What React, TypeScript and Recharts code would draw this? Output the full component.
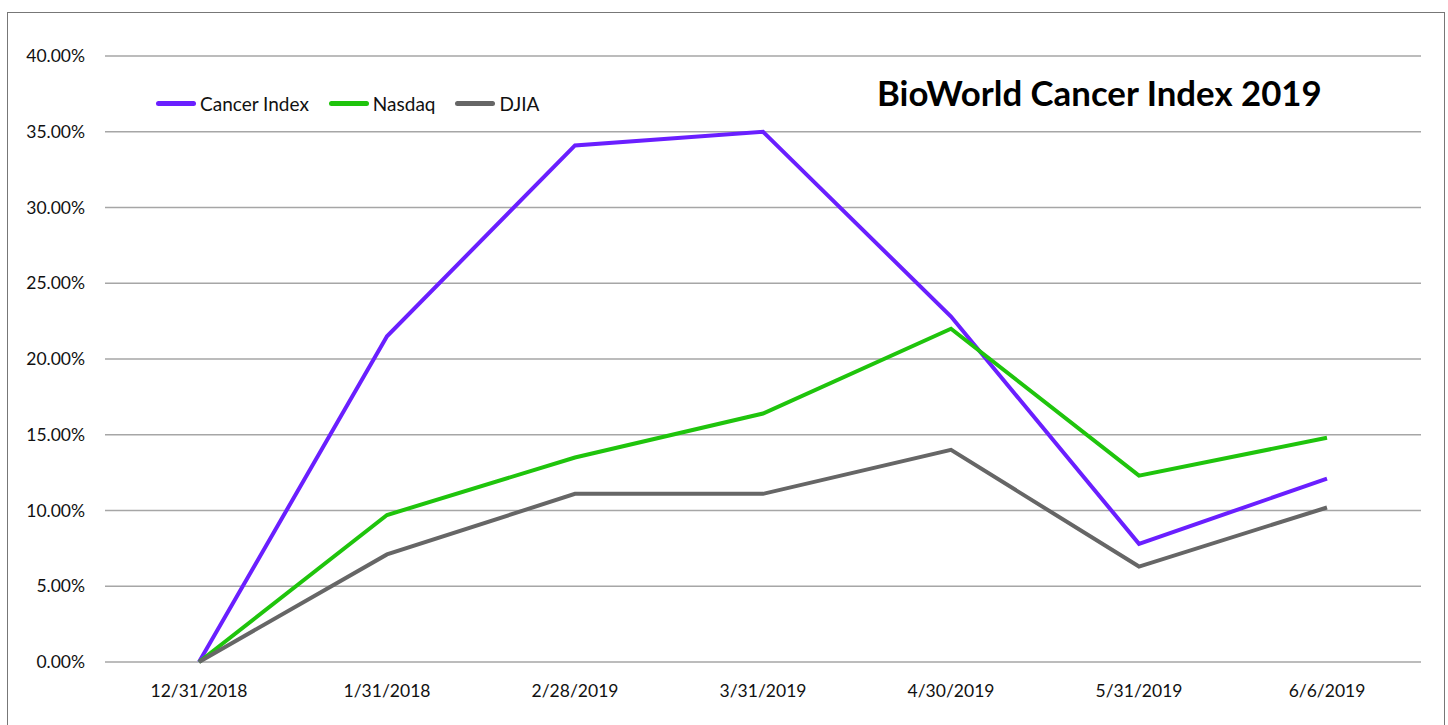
import { LineChart, Line, XAxis, YAxis, CartesianGrid } from 'recharts'

const dates = ['12/31/2018', '1/31/2018', '2/28/2019', '3/31/2019', '4/30/2019', '5/31/2019', '6/6/2019']
const cancerIndex = [0, 21.5, 34.1, 35.0, 22.8, 7.8, 12.1]
const nasdaq = [0, 9.7, 13.5, 16.4, 22.0, 12.3, 14.8]
const djia = [0, 7.1, 11.1, 11.1, 14.0, 6.3, 10.2]
const yTicks = [0, 5, 10, 15, 20, 25, 30, 35, 40]

const series = [
  { key: 'cancer', name: 'Cancer Index', color: '#6a1fff' },
  { key: 'nasdaq', name: 'Nasdaq', color: '#1fc40c' },
  { key: 'djia', name: 'DJIA', color: '#666666' },
]

const data = dates.map((date, i) => ({
  date,
  cancer: cancerIndex[i],
  nasdaq: nasdaq[i],
  djia: djia[i],
}))

const FONT = 'Lato, "Open Sans", sans-serif'

export default function App() {
  return (
    <div style={{ position: 'absolute', left: 0, top: 0, width: 1448, height: 725, overflow: 'hidden', background: '#fff' }}>
      <div
        style={{
          position: 'absolute',
          left: 7,
          top: 12,
          width: 1436,
          height: 730,
          border: '1.5px solid #777',
        }}
      />
      <div style={{ position: 'absolute', left: 0, top: 0 }}>
        <LineChart width={1448} height={725} data={data} margin={{ top: 56, right: 27, bottom: 0, left: 0 }}>
          <CartesianGrid vertical={false} stroke="#a6a6a6" strokeWidth={1.5} />
          <XAxis
            dataKey="date"
            padding={{ left: 94, right: 94 }}
            height={63}
            tickLine={false}
            axisLine={false}
            tickMargin={17}
            tick={{ fill: '#111', fontSize: 17.5, fontFamily: FONT }}
            interval={0}
          />
          <YAxis
            width={105}
            domain={[0, 40]}
            ticks={yTicks}
            tickLine={false}
            axisLine={false}
            tick={{ fill: '#111', fontSize: 17.5, fontFamily: FONT, dx: -12 }}
            tickFormatter={(v: number) => `${v.toFixed(2)}%`}
          />
          {series.map((s) => (
            <Line
              key={s.key}
              type="linear"
              dataKey={s.key}
              name={s.name}
              stroke={s.color}
              strokeWidth={4}
              dot={false}
              isAnimationActive={false}
            />
          ))}
        </LineChart>
      </div>
      <div
        style={{
          position: 'absolute',
          left: 156,
          top: 92,
          display: 'flex',
          alignItems: 'center',
          fontFamily: FONT,
          fontSize: 19,
          color: '#111',
        }}
      >
        {series.map((s) => (
          <div key={s.key} style={{ display: 'flex', alignItems: 'center', marginRight: 20 }}>
            <div style={{ width: 40, height: 5, borderRadius: 3, background: s.color, marginRight: 4 }} />
            <span>{s.name}</span>
          </div>
        ))}
      </div>
      <div
        style={{
          position: 'absolute',
          left: 877,
          top: 72,
          fontFamily: FONT,
          fontWeight: 700,
          fontSize: 34.8,
          color: '#000',
          whiteSpace: 'nowrap',
        }}
      >
        BioWorld Cancer Index 2019
      </div>
    </div>
  )
}
